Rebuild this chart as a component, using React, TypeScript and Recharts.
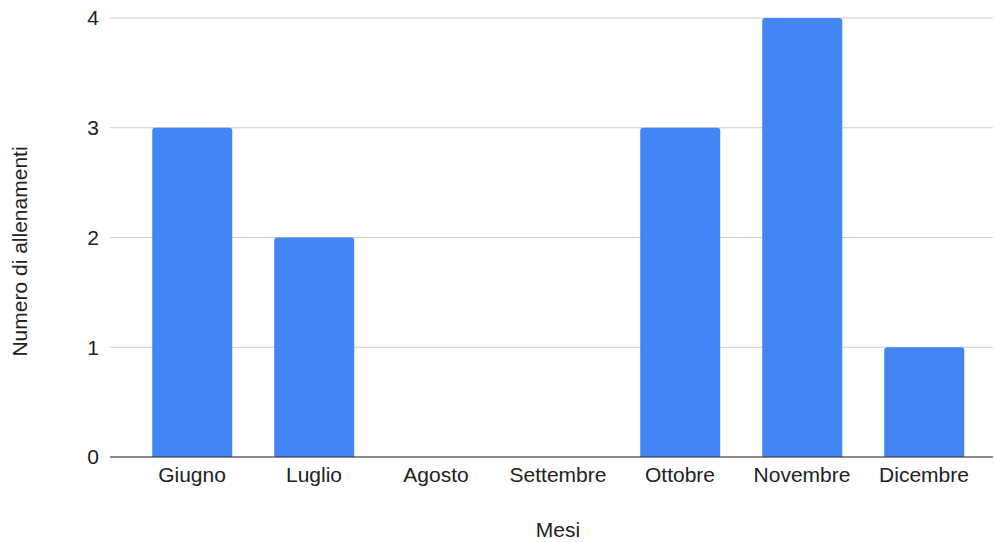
import { BarChart, Bar, XAxis, YAxis, CartesianGrid } from 'recharts';

const mesi = ['Giugno', 'Luglio', 'Agosto', 'Settembre', 'Ottobre', 'Novembre', 'Dicembre'];
const allenamenti = [3, 2, 0, 0, 3, 4, 1];
const yTicks = [0, 1, 2, 3, 4];

const data = mesi.map((mese, i) => ({ mese, allenamenti: allenamenti[i] }));

const font = '"Liberation Sans", Arial, sans-serif';

const App = () => {
  return (
    <div style={{ position: 'absolute', left: 0, top: 0, background: '#fff' }}>
      <BarChart
        width={994}
        height={542}
        data={data}
        margin={{ top: 18, right: 1, left: 0, bottom: 0 }}
        barCategoryGap="17.4%"
      >
        <CartesianGrid vertical={false} stroke="#cccccc" />
        <XAxis
          dataKey="mese"
          height={85}
          padding={{ left: 21, right: 8 }}
          tickLine={false}
          tickSize={0}
          tickMargin={10}
          axisLine={{ stroke: '#333333' }}
          tick={{ fill: '#222222', fontSize: 21, fontFamily: font }}
          interval={0}
          label={{
            content: ({ viewBox }: any) => (
              <text
                x={viewBox.x + 21 + (viewBox.width - 29) / 2}
                y={viewBox.y + 80}
                textAnchor="middle"
                fill="#222222"
                fontSize={21}
                fontFamily={font}
              >
                Mesi
              </text>
            ),
          }}
        />
        <YAxis
          width={110}
          domain={[0, 4]}
          ticks={yTicks}
          axisLine={false}
          tickLine={false}
          tickSize={0}
          tickMargin={11}
          tick={{ fill: '#222222', fontSize: 21, fontFamily: font }}
          label={{
            content: ({ viewBox }: any) => {
              const cy = viewBox.y + viewBox.height / 2 + 14;
              return (
                <text
                  x={27}
                  y={cy}
                  transform={`rotate(-90, 27, ${cy})`}
                  textAnchor="middle"
                  fill="#222222"
                  fontSize={21}
                  fontFamily={font}
                >
                  Numero di allenamenti
                </text>
              );
            },
          }}
        />
        <Bar dataKey="allenamenti" fill="#4285f4" radius={[3, 3, 0, 0]} isAnimationActive={false} />
      </BarChart>
    </div>
  );
};

export default App;
